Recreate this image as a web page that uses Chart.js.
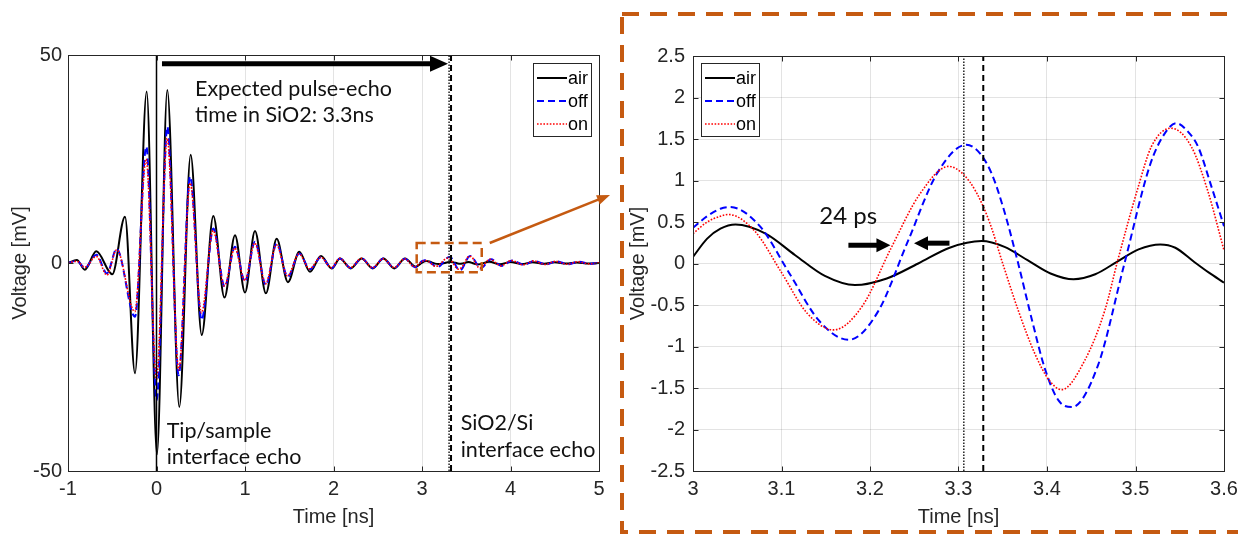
<!DOCTYPE html>
<html>
<head>
<meta charset="utf-8">
<script src="https://cdn.jsdelivr.net/npm/chart.js@4.4.1/dist/chart.umd.min.js"></script>
<style>
  html, body { margin: 0; padding: 0; background: #fff; }
  #wrap { position: relative; width: 1238px; height: 534px; overflow: hidden; }
  #pulseChart { position: absolute; left: 0; top: 0; }
  #zoomChart { position: absolute; left: 616px; top: 0; }
</style>
</head>
<body>
<div id="wrap">
  <canvas id="pulseChart" width="616" height="534"></canvas>
  <canvas id="zoomChart" width="622" height="534"></canvas>
</div>
<script>
// Pulse-echo traces (time in ns, voltage in mV)
const seriesNames = ['air', 'off', 'on'];

// main pulse, peaks and troughs from -1 to ~2.9 ns
const pulseTimeAir = [-1, -0.90, -0.81, -0.68, -0.50, -0.356, -0.243, -0.111, 0.005, 0.122, 0.258, 0.386, 0.511, 0.642, 0.768, 0.887, 1.0, 1.113, 1.236, 1.358, 1.485, 1.614, 1.734, 1.859, 1.98, 2.073, 2.194, 2.318, 2.443, 2.563, 2.687, 2.808, 2.93];
const pulseAir = [0, 0.7, -1.6, 2.8, -2.7, 11.1, -26.5, 41.2, -46, 41.6, -34.6, 26.0, -17.3, 11.3, -8.3, 6.7, -7.1, 7.7, -7.3, 5.8, -4.6, 2.7, -2.1, 1.7, -1.3, 1.1, -1.3, 1.1, -1.3, 1.1, -1.3, 1.1, -0.9];
const pulseTimeOff = [-1, -0.90, -0.81, -0.68, -0.56, -0.45, -0.243, -0.115, 0.002, 0.122, 0.25, 0.38, 0.51, 0.642, 0.77, 0.887, 1.0, 1.113, 1.236, 1.358, 1.482, 1.614, 1.734, 1.859, 1.98, 2.073, 2.194, 2.318, 2.443, 2.563, 2.687, 2.808, 2.92];
const pulseOff = [0, 0.5, -1.2, 2.0, -2.5, 3.4, -12.9, 28.0, -33, 32.8, -27, 20.8, -13.7, 8.3, -5.7, 3.9, -4.5, 5.1, -5.3, 4.7, -3.3, 2.3, -1.5, 1.4, -1.2, 1.1, -1.2, 1.1, -1.2, 1.1, -1.2, 1.0, -1.0];
const pulseTimeOn = [-1, -0.90, -0.81, -0.68, -0.56, -0.45, -0.245, -0.117, 0.0, 0.12, 0.252, 0.38, 0.508, 0.64, 0.767, 0.885, 0.998, 1.11, 1.233, 1.355, 1.48, 1.61, 1.73, 1.855, 1.975, 2.07, 2.19, 2.315, 2.44, 2.56, 2.685, 2.805, 2.915];
const pulseOn = [0, 0.4, -1.0, 1.6, -2.9, 3.2, -11.7, 25.0, -28, 30.0, -25.7, 19.2, -12.0, 7.8, -5.5, 3.6, -4.2, 4.8, -5.0, 4.4, -3.1, 2.2, -1.4, 1.4, -1.1, 1.1, -1.1, 1.1, -1.1, 1.0, -1.1, 1.0, -0.9];

// SiO2/Si echo window 3.0 - 3.6 ns (right panel)
const zoomTimeAir = [3.0, 3.016, 3.031, 3.048, 3.082, 3.1155, 3.149, 3.183, 3.219, 3.2545, 3.29, 3.326, 3.352, 3.378, 3.404, 3.43, 3.4545, 3.479, 3.5035, 3.528, 3.545, 3.565, 3.583, 3.6];
const zoomAir = [0.08, 0.30, 0.42, 0.47, 0.36, 0.10, -0.15, -0.26, -0.18, 0.0, 0.19, 0.27, 0.20, 0.04, -0.12, -0.19, -0.13, 0.02, 0.17, 0.23, 0.19, 0.03, -0.11, -0.23];
const zoomTimeOff = [3.0, 3.016, 3.031, 3.042, 3.0755, 3.109, 3.1425, 3.176, 3.209, 3.2425, 3.276, 3.309, 3.324, 3.338, 3.352, 3.367, 3.383, 3.398, 3.413, 3.428, 3.4575, 3.487, 3.5165, 3.532, 3.546, 3.56, 3.571, 3.586, 3.6];
const zoomOff = [0.43, 0.57, 0.66, 0.68, 0.45, -0.12, -0.69, -0.92, -0.58, 0.26, 1.09, 1.43, 1.33, 1.07, 0.62, 0.02, -0.68, -1.28, -1.65, -1.73, -1.23, -0.02, 1.19, 1.55, 1.69, 1.58, 1.40, 0.92, 0.45];
const zoomTimeOn = [3.0, 3.016, 3.031, 3.040, 3.0698, 3.0995, 3.129, 3.159, 3.1915, 3.224, 3.2565, 3.289, 3.305, 3.32, 3.335, 3.35, 3.368, 3.386, 3.402, 3.4165, 3.443, 3.4655, 3.48, 3.503, 3.518, 3.54, 3.563, 3.5815, 3.6];
const zoomOn = [0.36, 0.50, 0.57, 0.59, 0.39, -0.10, -0.60, -0.80, -0.51, 0.19, 0.84, 1.17, 1.08, 0.86, 0.50, 0.0, -0.58, -1.08, -1.40, -1.52, -1.16, -0.56, 0.04, 0.92, 1.41, 1.63, 1.41, 0.88, 0.16];

// ringing after the echo, up to 5 ns
const tailTimeAir = [3.63, 3.76, 3.88, 4.0, 4.13, 4.25, 4.38, 4.5, 4.63, 4.75, 4.88, 5.0];
const tailAir = [-0.35, 0.3, -0.3, 0.25, -0.25, 0.2, -0.2, 0.2, -0.15, 0.15, -0.1, 0];
const tailTimeOff = [3.66, 3.78, 3.9, 4.02, 4.15, 4.27, 4.4, 4.52, 4.65, 4.77, 4.9, 5.0];
const tailOff = [-1.3, 0.9, -0.7, 0.6, -0.45, 0.5, -0.35, 0.4, -0.3, 0.3, -0.2, 0];
const tailTimeOn = [3.65, 3.77, 3.89, 4.01, 4.14, 4.26, 4.39, 4.51, 4.64, 4.76, 4.89, 5.0];
const tailOn = [-1.2, 0.9, -0.7, 0.6, -0.45, 0.5, -0.35, 0.4, -0.3, 0.3, -0.2, 0];

// vertical marker lines (ns)
const tipEchoTime = 0;
const expectedEchoTime = 3.306;
const measuredEchoTime = 3.328;

// axis ranges / ticks
const pulseRange = { xmin: -1, xmax: 5, xstep: 1, ymin: -50, ymax: 50, ystep: 50 };
const zoomRange = { xmin: 3, xmax: 3.6, xstep: 0.1, ymin: -2.5, ymax: 2.5, ystep: 0.5 };

const lineStyles = [
    { borderColor: '#000000', borderWidth: 2, borderDash: [] },
    { borderColor: '#0000ff', borderWidth: 2, borderDash: [7, 4] },
    { borderColor: '#ff0000', borderWidth: 1.6, borderDash: [1.6, 1.6] }
];
const ORANGE = '#c55a11';
const AXIS_GRAY = '#262626';
const tickFont = { family: '"Liberation Sans", Arial, sans-serif', size: 20 };
const noteFont = '21.5px Lato, "Open Sans", sans-serif';

function pts(ts, vs) {
    return ts.map((t, i) => ({ x: t, y: vs[i] }));
}

function traceDatasets(sets) {
    return sets.map((data, i) => Object.assign({
        label: seriesNames[i],
        data: data,
        pointRadius: 0,
        fill: false,
        cubicInterpolationMode: 'monotone',
        order: 3 - i
    }, lineStyles[i]));
}

function markerDataset(t, ymin, ymax, style) {
    return Object.assign({
        label: '',
        data: [{ x: t, y: ymin }, { x: t, y: ymax }],
        pointRadius: 0,
        tension: 0,
        fill: false,
        order: 0
    }, style);
}

const solidMarker = { borderColor: '#000', borderWidth: 1.5, borderDash: [] };
const dottedMarker = { borderColor: '#222', borderWidth: 1.5, borderDash: [1.5, 1.5] };
const dashedMarker = { borderColor: '#000', borderWidth: 2, borderDash: [6, 4] };

// box + inward ticks, like a MATLAB axes
const matlabBox = {
    id: 'matlabBox',
    afterDatasetsDraw(chart) {
        const { ctx, chartArea: a, scales: { x, y } } = chart;
        ctx.save();
        ctx.strokeStyle = AXIS_GRAY;
        ctx.lineWidth = 1;
        ctx.setLineDash([]);
        const L = Math.round(a.left) + 0.5, R = Math.round(a.right) + 0.5;
        const T = Math.round(a.top) + 0.5, B = Math.round(a.bottom) + 0.5;
        ctx.strokeRect(L, T, R - L, B - T);
        ctx.beginPath();
        x.ticks.forEach(t => {
            const p = Math.round(x.getPixelForValue(t.value)) + 0.5;
            ctx.moveTo(p, B); ctx.lineTo(p, B - 5);
            ctx.moveTo(p, T); ctx.lineTo(p, T + 5);
        });
        y.ticks.forEach(t => {
            const p = Math.round(y.getPixelForValue(t.value)) + 0.5;
            ctx.moveTo(L, p); ctx.lineTo(L + 5, p);
            ctx.moveTo(R, p); ctx.lineTo(R - 5, p);
        });
        ctx.stroke();
        ctx.restore();
    }
};

function drawLegend(chart, bx, by) {
    const ctx = chart.ctx;
    const w = 58, h = 73;
    ctx.save();
    ctx.fillStyle = '#fff';
    ctx.fillRect(bx, by, w, h);
    ctx.strokeStyle = AXIS_GRAY;
    ctx.lineWidth = 1;
    ctx.strokeRect(Math.round(bx) + 0.5, Math.round(by) + 0.5, w, h);
    ctx.font = '18px "Liberation Sans", Arial, sans-serif';
    ctx.textBaseline = 'middle';
    seriesNames.forEach((name, i) => {
        const ds = chart.data.datasets[i];
        const yy = by + 15 + i * 23;
        ctx.strokeStyle = ds.borderColor;
        ctx.lineWidth = ds.borderWidth;
        ctx.setLineDash(ds.borderDash);
        ctx.beginPath();
        ctx.moveTo(bx + 4, yy);
        ctx.lineTo(bx + 34, yy);
        ctx.stroke();
        ctx.setLineDash([]);
        ctx.fillStyle = '#000';
        ctx.fillText(name, bx + 35, yy + 1);
    });
    ctx.restore();
}

function drawArrow(ctx, x1, y1, x2, y2, width, headLen, headHalf, color) {
    const ang = Math.atan2(y2 - y1, x2 - x1);
    const c = Math.cos(ang), s = Math.sin(ang);
    const bx = x2 - headLen * c, by = y2 - headLen * s;
    ctx.save();
    ctx.strokeStyle = color;
    ctx.fillStyle = color;
    ctx.lineWidth = width;
    ctx.setLineDash([]);
    ctx.beginPath();
    ctx.moveTo(x1, y1);
    ctx.lineTo(bx + c, by + s);
    ctx.stroke();
    ctx.beginPath();
    ctx.moveTo(x2, y2);
    ctx.lineTo(bx - headHalf * s, by + headHalf * c);
    ctx.lineTo(bx + headHalf * s, by - headHalf * c);
    ctx.closePath();
    ctx.fill();
    ctx.restore();
}

function scaleOpts(range, axis, fitSize, title, titlePad, tickPad) {
    const isX = axis === 'x';
    const step = isX ? range.xstep : range.ystep;
    return {
        type: 'linear',
        min: isX ? range.xmin : range.ymin,
        max: isX ? range.xmax : range.ymax,
        afterFit: s => {
            // fixed axis size and no label overflow padding, so the plot box lands where it should
            if (isX) s.height = fitSize; else s.width = fitSize;
            s.paddingLeft = s.paddingRight = s.paddingTop = s.paddingBottom = 0;
        },
        ticks: {
            stepSize: step,
            padding: tickPad,
            color: AXIS_GRAY,
            font: tickFont,
            autoSkip: false,
            maxRotation: 0,
            callback: v => String(Number(v.toFixed(2)))
        },
        grid: { color: 'rgba(38,38,38,0.13)', lineWidth: 1, drawTicks: false },
        border: { display: false },
        title: { display: true, text: title, color: AXIS_GRAY, font: tickFont, padding: titlePad }
    };
}

// ---------- left panel: full trace ----------
const pulseNotes = {
    id: 'pulseNotes',
    afterDraw(chart) {
        const { ctx, chartArea: a, scales: { x, y } } = chart;
        // expected echo time arrow
        drawArrow(ctx, x.getPixelForValue(0.062), y.getPixelForValue(47.9),
            x.getPixelForValue(3.294), y.getPixelForValue(47.9), 5, 18, 8, '#000');

        ctx.save();
        ctx.font = noteFont;
        ctx.fillStyle = '#111';
        ctx.textBaseline = 'alphabetic';
        ctx.fillText('Expected pulse-echo', x.getPixelForValue(0.435), y.getPixelForValue(40.2));
        ctx.fillText('time in SiO2: 3.3ns', x.getPixelForValue(0.435), y.getPixelForValue(33.9));
        ctx.fillText('Tip/sample', x.getPixelForValue(0.115), y.getPixelForValue(-42.0));
        ctx.fillText('interface echo', x.getPixelForValue(0.115), y.getPixelForValue(-48.4));
        ctx.fillText('SiO2/Si', x.getPixelForValue(3.437), y.getPixelForValue(-40.2));
        ctx.fillText('interface echo', x.getPixelForValue(3.437), y.getPixelForValue(-46.6));

        // zoom window box
        const bx1 = x.getPixelForValue(2.94), bx2 = x.getPixelForValue(3.675);
        const by1 = y.getPixelForValue(4.8), by2 = y.getPixelForValue(-2.2);
        ctx.strokeStyle = ORANGE;
        ctx.lineWidth = 2.5;
        ctx.setLineDash([9, 5]);
        ctx.strokeRect(bx1, by1, bx2 - bx1, by2 - by1);
        ctx.restore();

        // arrow towards the zoom panel
        drawArrow(ctx, bx2 + 8, by1, 610, 195, 2.5, 13, 5, ORANGE);

        drawLegend(chart, a.right - 66, a.top + 8);
    }
};

const pulseChart = new Chart(document.getElementById('pulseChart'), {
    type: 'line',
    data: {
        datasets: traceDatasets([
            [...pts(pulseTimeAir, pulseAir), ...pts(zoomTimeAir, zoomAir), ...pts(tailTimeAir, tailAir)],
            [...pts(pulseTimeOff, pulseOff), ...pts(zoomTimeOff, zoomOff), ...pts(tailTimeOff, tailOff)],
            [...pts(pulseTimeOn, pulseOn), ...pts(zoomTimeOn, zoomOn), ...pts(tailTimeOn, tailOn)]
        ]).concat([
            markerDataset(tipEchoTime, pulseRange.ymin, pulseRange.ymax, solidMarker),
            markerDataset(expectedEchoTime, pulseRange.ymin, pulseRange.ymax, dottedMarker),
            markerDataset(measuredEchoTime, pulseRange.ymin, pulseRange.ymax, dashedMarker)
        ])
    },
    options: {
        responsive: false,
        animation: false,
        layout: { padding: { left: 0, top: 55, right: 17, bottom: 0 } },
        plugins: { legend: { display: false }, tooltip: { enabled: false } },
        scales: {
            x: scaleOpts(pulseRange, 'x', 63, 'Time [ns]', { top: 0, bottom: 5 }, 6),
            y: scaleOpts(pulseRange, 'y', 68, 'Voltage [mV]', { top: 8, bottom: 0 }, 6)
        }
    },
    plugins: [matlabBox, pulseNotes]
});

// ---------- right panel: echo window ----------
const zoomNotes = {
    id: 'zoomNotes',
    afterDraw(chart) {
        const { ctx, chartArea: a, scales: { x, y } } = chart;
        ctx.save();
        ctx.font = '24px Lato, "Open Sans", sans-serif';
        ctx.fillStyle = '#111';
        ctx.textBaseline = 'alphabetic';
        ctx.fillText('24 ps', x.getPixelForValue(3.1427), y.getPixelForValue(0.474));
        ctx.restore();

        drawArrow(ctx, x.getPixelForValue(3.1756), y.getPixelForValue(0.22),
            x.getPixelForValue(3.2231), y.getPixelForValue(0.22), 5, 14, 7, '#000');
        drawArrow(ctx, x.getPixelForValue(3.2898), y.getPixelForValue(0.245),
            x.getPixelForValue(3.2497), y.getPixelForValue(0.245), 5, 14, 7, '#000');

        drawLegend(chart, a.left + 8, a.top + 7);

        // dashed frame around the panel
        ctx.save();
        ctx.strokeStyle = ORANGE;
        ctx.lineWidth = 4;
        ctx.setLineDash([17, 11]);
        ctx.strokeRect(6, 14, 640, 518);
        ctx.restore();
    }
};

const zoomChart = new Chart(document.getElementById('zoomChart'), {
    type: 'line',
    data: {
        datasets: traceDatasets([
            pts(zoomTimeAir, zoomAir),
            pts(zoomTimeOff, zoomOff),
            pts(zoomTimeOn, zoomOn)
        ]).concat([
            markerDataset(expectedEchoTime, zoomRange.ymin, zoomRange.ymax, dottedMarker),
            markerDataset(measuredEchoTime, zoomRange.ymin, zoomRange.ymax, dashedMarker)
        ])
    },
    options: {
        responsive: false,
        animation: false,
        layout: { padding: { left: 0, top: 56, right: 14, bottom: 0 } },
        plugins: { legend: { display: false }, tooltip: { enabled: false } },
        scales: {
            x: scaleOpts(zoomRange, 'x', 63, 'Time [ns]', { top: 0, bottom: 5 }, 6),
            y: scaleOpts(zoomRange, 'y', 77, 'Voltage [mV]', { top: 10, bottom: 0 }, 8)
        }
    },
    plugins: [matlabBox, zoomNotes]
});
</script>
</body>
</html>
